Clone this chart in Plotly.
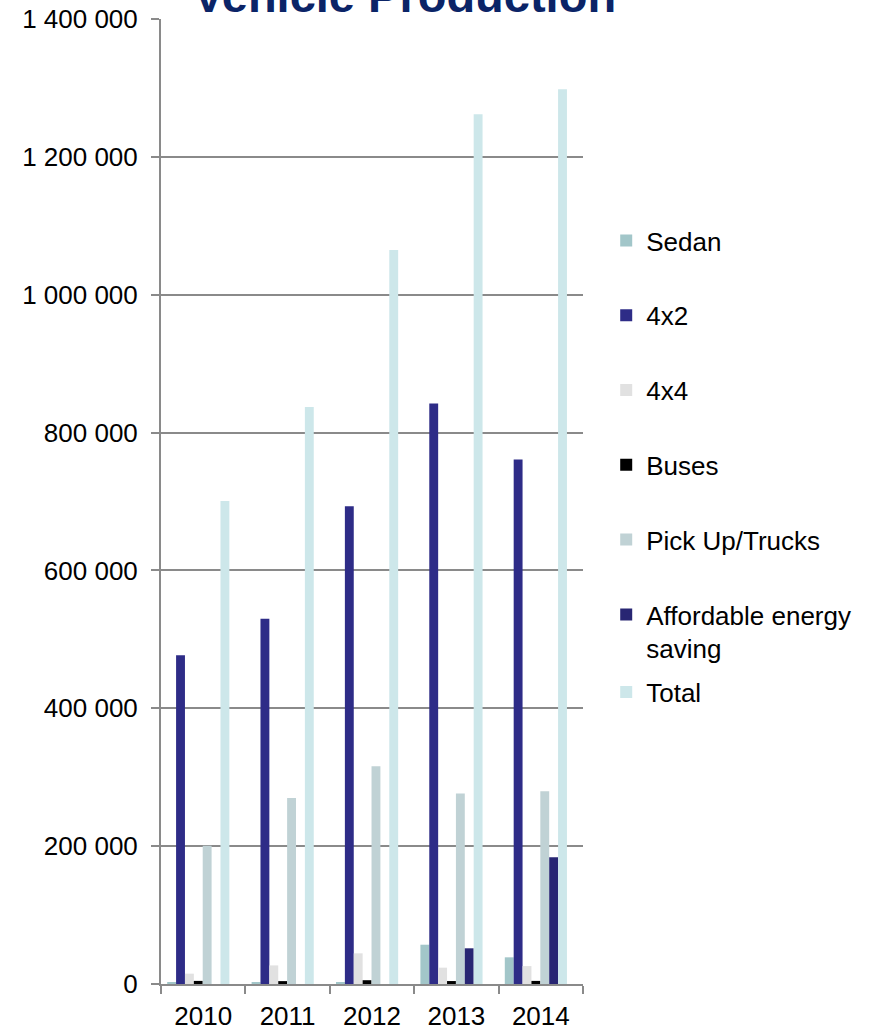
import plotly.graph_objects as go

# Production by vehicle type, 2010-2014
years = ["2010", "2011", "2012", "2013", "2014"]

sedan = [2500, 2000, 2500, 57000, 38700]
four_by_two = [477000, 530000, 693000, 842000, 760800]
four_by_four = [15000, 27000, 44500, 23700, 26000]
buses = [4500, 4200, 5500, 4300, 4500]
pickup_trucks = [200500, 270000, 316000, 276500, 279500]
affordable_energy_saving = [0, 0, 0, 51800, 184000]
total = [700700, 837000, 1065000, 1261700, 1298000]

series = [
    ("Sedan", sedan, "#A2C6C9", "legend"),
    ("4x2", four_by_two, "#2E2C87", "legend"),
    ("4x4", four_by_four, "#E1E1E1", "legend"),
    ("Buses", buses, "#000000", "legend"),
    ("Pick Up/Trucks", pickup_trucks, "#C0D2D5", "legend"),
    ("Affordable energy<br>saving", affordable_energy_saving, "#282673", "legend"),
    ("Total", total, "#CDE7EA", "legend2"),
]

FONT = "Arial, 'Liberation Sans', sans-serif"
GRID = "#8A8A8A"

# Bars sit side by side inside each year slot
bar_w = 0.1052
group_start = -0.4265

fig = go.Figure()
for i, (name, vals, color, leg) in enumerate(series):
    fig.add_trace(go.Bar(
        x=years, y=vals, name=name,
        marker=dict(color=color, line=dict(width=0)),
        width=bar_w, offset=group_start + i * bar_w,
        legendgroup=name, legend=leg,
    ))

fig.update_layout(
    width=874, height=1030,
    margin=dict(l=161, r=291, t=19, b=46, autoexpand=False),
    paper_bgcolor="white", plot_bgcolor="white",
    barmode="overlay",
    separators=". ",
    font=dict(family=FONT, size=26, color="#000000"),
    showlegend=True,
    legend=dict(
        x=1.055, xanchor="left", y=0.7948, yanchor="top",
        font=dict(family=FONT, size=26, color="#000000"),
        tracegroupgap=38, valign="top", bgcolor="rgba(0,0,0,0)",
        traceorder="grouped",
    ),
    legend2=dict(
        x=1.055, xanchor="left", y=0.3026, yanchor="middle",
        font=dict(family=FONT, size=26, color="#000000"),
        bgcolor="rgba(0,0,0,0)",
    ),
    xaxis=dict(
        type="category",
        range=[-0.5, 4.5],
        automargin=False,
        showline=True, linecolor=GRID, linewidth=2,
        ticks="outside", ticklen=8, tickcolor=GRID, tickwidth=2,
        tickson="boundaries",
        showgrid=False, zeroline=False,
        ticklabelstandoff=8,
        tickfont=dict(family=FONT, size=26, color="#000000"),
    ),
    yaxis=dict(
        range=[0, 1400000], dtick=200000, tickformat=",d",
        automargin=False,
        showline=True, linecolor=GRID, linewidth=2,
        ticks="outside", ticklen=8, tickcolor=GRID, tickwidth=2,
        showgrid=True, gridcolor=GRID, gridwidth=2,
        zeroline=False,
        ticklabelstandoff=8,
        tickfont=dict(family=FONT, size=26, color="#000000"),
    ),
    annotations=[dict(
        text="<b>Vehicle Production</b>",
        xref="paper", yref="paper", x=0.576, y=0.9948,
        xanchor="center", yanchor="bottom", showarrow=False,
        font=dict(family=FONT, size=47, color="#0B2467"),
    )],
)

fig.write_html("out.html")
